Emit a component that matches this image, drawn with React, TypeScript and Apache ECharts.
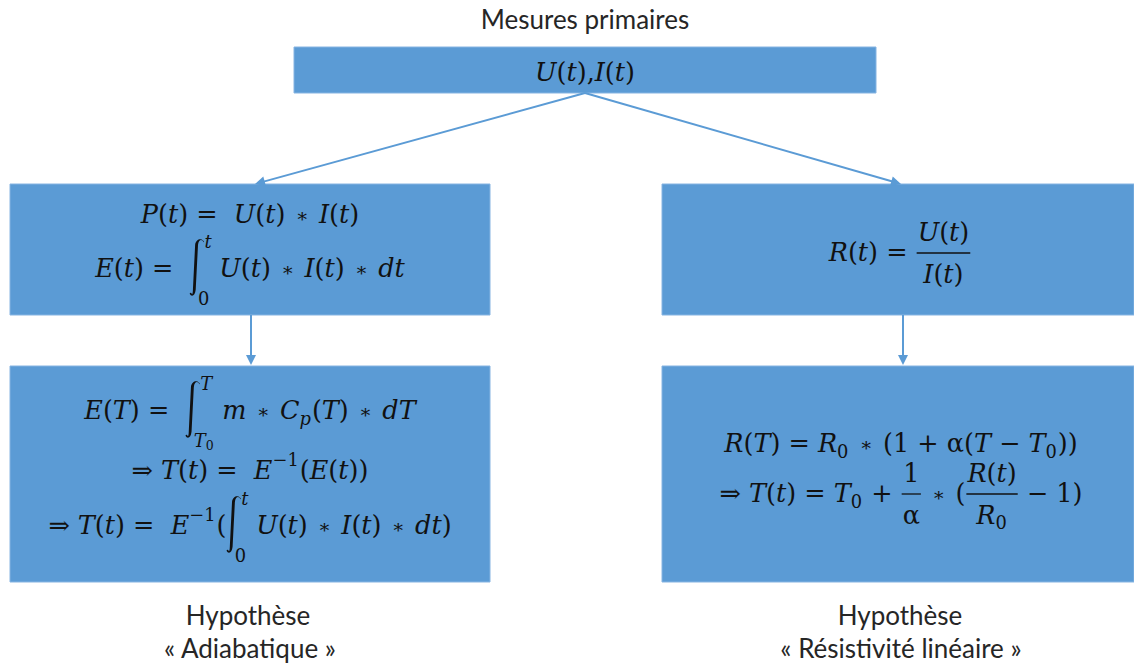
import React, { useEffect, useRef } from 'react';
import * as echarts from 'echarts';

type Tok =
  | { k: 't'; s: string }
  | { k: 'sup'; c: Tok[] }
  | { k: 'sub'; c: Tok[] }
  | { k: 'int'; hi: Tok[]; lo: Tok[] }
  | { k: 'frac'; num: Tok[]; den: Tok[] };

const T = (s: string): Tok => ({ k: 't', s });
const SUP = (...c: Tok[]): Tok => ({ k: 'sup', c });
const SUB = (...c: Tok[]): Tok => ({ k: 'sub', c });
const INT = (hi: Tok[], lo: Tok[]): Tok => ({ k: 'int', hi, lo });
const FRAC = (num: Tok[], den: Tok[]): Tok => ({ k: 'frac', num, den });

// ---- texts of the diagram ----
const TITLE = 'Mesures primaires';
const HYPOTHESIS_LEFT = ['Hypothèse', '« Adiabatique »'];
const HYPOTHESIS_RIGHT = ['Hypothèse', '« Résistivité linéaire »'];

const MEASURE_LINES: Tok[][] = [[T('U(t),I(t)')]];
const ENERGY_LINES: Tok[][] = [
  [T('P(t) =  U(t) ∗ I(t)')],
  [T('E(t) =  '), INT([T('t')], [T('0')]), T('U(t) ∗ I(t) ∗ dt')],
];
const RESIST_LINES: Tok[][] = [[T('R(t) = '), FRAC([T('U(t)')], [T('I(t)')])]];
const ADIABATIC_LINES: Tok[][] = [
  [T('E(T) =  '), INT([T('T')], [T('T'), SUB(T('0'))]), T('m ∗ C'), SUB(T('p')), T('(T) ∗ dT')],
  [T('⇒ T(t) =  E'), SUP(T('−1')), T('(E(t))')],
  [T('⇒ T(t) =  E'), SUP(T('−1')), T('('), INT([T('t')], [T('0')]), T('U(t) ∗ I(t) ∗ dt)')],
];
const LINEAR_LINES: Tok[][] = [
  [T('R(T) = R'), SUB(T('0')), T(' ∗ (1 + α(T − T'), SUB(T('0')), T('))')],
  [
    T('⇒ T(t) = T'), SUB(T('0')), T(' + '), FRAC([T('1')], [T('α')]), T(' ∗ ('),
    FRAC([T('R(t)')], [T('R'), SUB(T('0'))]), T(' − 1)'),
  ],
];

const BLUE = '#5B9BD5';
const INK = '#111';
const MATH_FONT = '"DejaVu Serif"';
const LABEL_FONT = 'Lato';
const FS = 25.5;

// slanted integral sign outline, 100 units tall
const INTEGRAL_D =
  'M 24 5 C 22 -1 15.5 -1 14.5 10 L 10.5 88 C 9.5 99 3 101 0 95 C 0.5 92.5 3 92.5 3.5 95 C 4.5 97 5.5 95 5.7 87 L 9.5 10 C 10.5 0 19.5 -2 23 2 C 25 3 25 5 24 5 Z';
echarts.graphic.registerShape('integral', echarts.graphic.extendPath(INTEGRAL_D, {}) as any);
const INT_W = 24;
const INT_H = 100;

let ctx: CanvasRenderingContext2D | null = null;
function measure(s: string, size: number, italic: boolean): number {
  if (!ctx) ctx = document.createElement('canvas').getContext('2d');
  ctx!.font = `${italic ? 'italic ' : ''}${size}px ${MATH_FONT}`;
  return ctx!.measureText(s).width;
}

type Run = { s: string; kind: 'it' | 'up' | 'op' };
function splitRuns(s: string): Run[] {
  const out: Run[] = [];
  for (const ch of s) {
    const kind: Run['kind'] = /[A-Za-z]/.test(ch) ? 'it' : ch === '∗' ? 'op' : 'up';
    const last = out[out.length - 1];
    if (last && last.kind === kind && kind !== 'op') last.s += ch;
    else out.push({ s: ch, kind });
  }
  return out;
}

function txt(s: string, x: number, y: number, size: number, italic: boolean) {
  return {
    type: 'text',
    x,
    y,
    style: {
      text: s,
      fill: INK,
      fontSize: size,
      fontFamily: MATH_FONT,
      fontStyle: italic ? 'italic' : 'normal',
      textAlign: 'left',
      align: 'left',
      textVerticalAlign: 'middle',
      verticalAlign: 'middle',
    },
  };
}

type Built = { w: number; draw: (x: number, y: number) => any[] };

function build(toks: Tok[], fs: number): Built {
  const parts: ((x: number, y: number) => any[])[] = [];
  let w = 0;
  for (const tk of toks) {
    const off = w;
    if (tk.k === 't') {
      for (const r of splitRuns(tk.s)) {
        const o = w;
        if (r.kind === 'op') {
          const full = measure(r.s, fs, false);
          const sz = fs * 0.75;
          const sw = measure(r.s, sz, false);
          parts.push((x, y) => [txt(r.s, x + o + (full - sw) / 2, y + fs * 0.05, sz, false)]);
          w += full;
        } else {
          const it = r.kind === 'it';
          parts.push((x, y) => [txt(r.s, x + o, y, fs, it)]);
          w += measure(r.s, fs, it);
        }
      }
    } else if (tk.k === 'sup' || tk.k === 'sub') {
      const b = build(tk.c, fs * 0.7);
      const dy = tk.k === 'sup' ? -fs * 0.42 : fs * 0.32;
      parts.push((x, y) => b.draw(x + off, y + dy));
      w += b.w + 1;
    } else if (tk.k === 'int') {
      const gh = fs * 2.25;
      const sc = gh / INT_H;
      const gw = INT_W * sc;
      const hi = build(tk.hi, fs * 0.7);
      const lo = build(tk.lo, fs * 0.7);
      parts.push((x, y) => [
        { type: 'integral', x: x + off, y: y - gh * 0.5, scaleX: sc, scaleY: sc, style: { fill: INK } },
        ...hi.draw(x + off + gw + 1, y - fs * 1.05),
        ...lo.draw(x + off + gw * 0.6, y + fs * 1.18),
      ]);
      w += Math.max(gw + 1 + hi.w, gw * 0.6 + lo.w) + fs * 0.3;
    } else if (tk.k === 'frac') {
      const nb = build(tk.num, fs);
      const db = build(tk.den, fs);
      const fw = Math.max(nb.w, db.w) + 4;
      parts.push((x, y) => [
        ...nb.draw(x + off + (fw - nb.w) / 2, y - fs * 0.78),
        {
          type: 'line',
          shape: { x1: x + off + 1, y1: y + 1, x2: x + off + fw - 1, y2: y + 1 },
          style: { stroke: INK, lineWidth: 1.3 },
        },
        ...db.draw(x + off + (fw - db.w) / 2, y + fs * 0.85),
      ]);
      w += fw;
    }
  }
  return { w, draw: (x, y) => parts.flatMap((p) => p(x, y)) };
}

function formulaBlock(lines: Tok[][], cx: number, cys: number[]) {
  return lines.flatMap((ln, i) => {
    const b = build(ln, FS);
    return b.draw(cx - b.w / 2, cys[i]);
  });
}

function arrow(x1: number, y1: number, x2: number, y2: number) {
  const dx = x2 - x1, dy = y2 - y1;
  const L = Math.hypot(dx, dy);
  const ux = dx / L, uy = dy / L;
  const hl = 10, hw = 5;
  const bx = x2 - ux * hl, by = y2 - uy * hl;
  return [
    { type: 'line', shape: { x1, y1, x2: bx + ux * 2, y2: by + uy * 2 }, style: { stroke: BLUE, lineWidth: 2 } },
    {
      type: 'polygon',
      shape: { points: [[x2, y2], [bx - uy * hw, by + ux * hw], [bx + uy * hw, by - ux * hw]] },
      style: { fill: BLUE },
    },
  ];
}

function rect(x: number, y: number, w: number, h: number) {
  return { type: 'rect', shape: { x, y, width: w, height: h }, style: { fill: BLUE, stroke: '#86B4E2', lineWidth: 1 } };
}

function label(s: string, cx: number, cy: number) {
  return {
    type: 'text',
    x: cx,
    y: cy,
    style: {
      text: s,
      fill: '#262626',
      fontSize: 26,
      fontFamily: LABEL_FONT,
      textAlign: 'center',
      align: 'center',
      textVerticalAlign: 'middle',
      verticalAlign: 'middle',
    },
  };
}

export default function App() {
  const ref = useRef<HTMLDivElement>(null);
  useEffect(() => {
    if (!ref.current) return;
    const chart = echarts.init(ref.current, undefined, { renderer: 'svg' });
    const elements: any[] = [
      rect(294, 47, 582, 46),
      rect(10, 184, 480, 131),
      rect(662, 184, 472, 131),
      rect(10, 366, 480, 216),
      rect(662, 366, 472, 216),
      ...arrow(585, 93, 255, 184),
      ...arrow(585, 93, 901, 184),
      ...arrow(251, 315, 251, 365),
      ...arrow(903, 315, 903, 365),
      label(TITLE, 585, 19),
      label(HYPOTHESIS_LEFT[0], 248, 615),
      label(HYPOTHESIS_LEFT[1], 250, 648),
      label(HYPOTHESIS_RIGHT[0], 900, 615),
      label(HYPOTHESIS_RIGHT[1], 901, 648),
      ...formulaBlock(MEASURE_LINES, 585, [72]),
      ...formulaBlock(ENERGY_LINES, 250, [214, 268]),
      ...formulaBlock(RESIST_LINES, 900, [252]),
      ...formulaBlock(ADIABATIC_LINES, 250, [410, 470, 525]),
      ...formulaBlock(LINEAR_LINES, 901, [443, 493]),
    ];
    chart.setOption({
      animation: false,
      backgroundColor: '#ffffff',
      graphic: { elements },
    });
    return () => chart.dispose();
  }, []);
  return (
    <div
      ref={ref}
      style={{ position: 'absolute', left: 0, top: 0, width: 1134, height: 663 }}
    />
  );
}
